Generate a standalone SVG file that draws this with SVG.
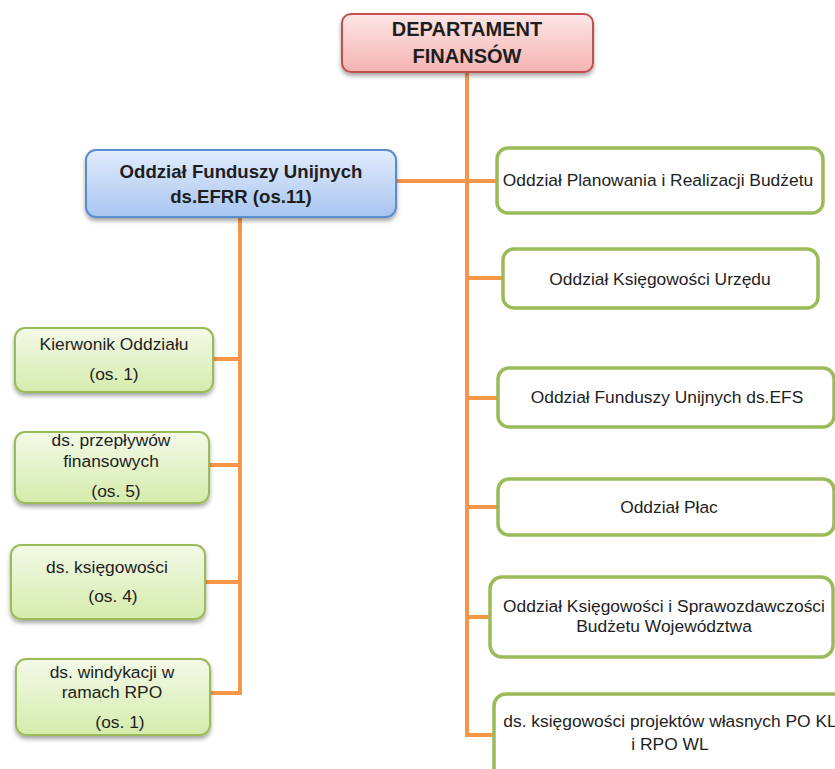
<svg xmlns="http://www.w3.org/2000/svg" width="835" height="769" viewBox="0 0 835 769">
  <defs>
    <linearGradient id="gRed" x1="0" y1="0" x2="0" y2="1">
      <stop offset="0" stop-color="#fde6e6"/>
      <stop offset="1" stop-color="#f5b3b2"/>
    </linearGradient>
    <linearGradient id="gBlue" x1="0" y1="0" x2="0" y2="1">
      <stop offset="0" stop-color="#e2ecfc"/>
      <stop offset="1" stop-color="#a8c5f0"/>
    </linearGradient>
    <linearGradient id="gGreen" x1="0" y1="0" x2="0" y2="1">
      <stop offset="0" stop-color="#f3f9e8"/>
      <stop offset="1" stop-color="#d5ecac"/>
    </linearGradient>
    <filter id="shadow" x="-10%" y="-20%" width="120%" height="150%">
      <feDropShadow dx="0" dy="3" stdDeviation="2" flood-color="#000" flood-opacity="0.35"/>
    </filter>
    <style>
      .line { stroke: #f79646; stroke-width: 4; fill: none; }
      .head { fill: url(#gRed); stroke: #c0504d; stroke-width: 2; filter: url(#shadow); }
      .unit { fill: url(#gBlue); stroke: #5b8cd0; stroke-width: 2; filter: url(#shadow); }
      .post { fill: url(#gGreen); stroke: #9bbb59; stroke-width: 2; filter: url(#shadow); }
      .dept { fill: #ffffff; stroke: #9bbb59; stroke-width: 3.5; }
      text { font-family: "Liberation Sans", Arial, sans-serif; fill: #1e1e1e; text-anchor: middle; }
      .b20 { font-size: 20px; font-weight: bold; }
      .b18 { font-size: 18.6px; font-weight: bold; }
      .t { font-size: 17.4px; }
    </style>
  </defs>

  <!-- connectors -->
  <g id="connectors">
    <line class="line" x1="467" y1="70" x2="467" y2="737"/>
    <line class="line" x1="394" y1="181" x2="499" y2="181"/>
    <line class="line" x1="467" y1="278" x2="504" y2="278"/>
    <line class="line" x1="467" y1="398" x2="499" y2="398"/>
    <line class="line" x1="467" y1="507" x2="499" y2="507"/>
    <line class="line" x1="467" y1="617" x2="491" y2="617"/>
    <line class="line" x1="465" y1="735" x2="495" y2="735"/>
    <line class="line" x1="240" y1="215" x2="240" y2="695"/>
    <line class="line" x1="211" y1="359" x2="242" y2="359"/>
    <line class="line" x1="207" y1="465" x2="242" y2="465"/>
    <line class="line" x1="203" y1="582" x2="242" y2="582"/>
    <line class="line" x1="208" y1="693" x2="242" y2="693"/>
  </g>

  <!-- head of department -->
  <g id="departament">
    <rect class="head" x="342" y="14" width="251" height="58" rx="9"/>
    <text class="b20" x="467" y="36">DEPARTAMENT</text>
    <text class="b20" x="467" y="63">FINANSÓW</text>
  </g>

  <!-- EU funds unit -->
  <g id="oddzial-efrr">
    <rect class="unit" x="86" y="150" width="310" height="67" rx="10"/>
    <text class="b18" x="241" y="178">Oddział Funduszy Unijnych</text>
    <text class="b18" x="241" y="203">ds.EFRR (os.11)</text>
  </g>

  <!-- positions in the EU funds unit -->
  <g id="kierownik">
    <rect class="post" x="15" y="328" width="198" height="64" rx="10"/>
    <text class="t" x="114" y="350">Kierwonik Oddziału</text>
    <text class="t" x="114" y="380">(os. 1)</text>
  </g>
  <g id="przeplywy">
    <rect class="post" x="15" y="432" width="194" height="71" rx="10"/>
    <text class="t" x="111" y="446">ds. przepływów</text>
    <text class="t" x="111" y="467">finansowych</text>
    <text class="t" x="116" y="497">(os. 5)</text>
  </g>
  <g id="ksiegowosc">
    <rect class="post" x="11" y="545" width="194" height="74" rx="10"/>
    <text class="t" x="107" y="573">ds. księgowości</text>
    <text class="t" x="113" y="602">(os. 4)</text>
  </g>
  <g id="windykacja">
    <rect class="post" x="16" y="659" width="194" height="76" rx="10"/>
    <text class="t" x="112" y="678">ds. windykacji w</text>
    <text class="t" x="112" y="698">ramach RPO</text>
    <text class="t" x="120" y="728">(os. 1)</text>
  </g>

  <!-- other units of the department -->
  <g id="planowanie">
    <rect class="dept" x="497" y="148" width="326" height="65" rx="11"/>
    <text class="t" x="658" y="186">Oddział Planowania i Realizacji Budżetu</text>
  </g>
  <g id="ksiegowosc-urzedu">
    <rect class="dept" x="503" y="249" width="315" height="59" rx="11"/>
    <text class="t" x="660" y="285">Oddział Księgowości Urzędu</text>
  </g>
  <g id="oddzial-efs">
    <rect class="dept" x="498" y="368" width="336" height="59" rx="11"/>
    <text class="t" x="667" y="403">Oddział Funduszy Unijnych ds.EFS</text>
  </g>
  <g id="place">
    <rect class="dept" x="498" y="479" width="336" height="56" rx="11"/>
    <text class="t" x="669" y="513">Oddział Płac</text>
  </g>
  <g id="sprawozdawczosc">
    <rect class="dept" x="490" y="577" width="343" height="80" rx="12"/>
    <text class="t" x="664" y="612">Oddział Księgowości i Sprawozdawczości</text>
    <text class="t" x="664" y="632">Budżetu Województwa</text>
  </g>
  <g id="projekty-wlasne">
    <rect class="dept" x="494" y="694" width="356" height="90" rx="12"/>
    <text class="t" x="670" y="727">ds. księgowości projektów własnych PO KL</text>
    <text class="t" x="670" y="750">i RPO WL</text>
  </g>
</svg>
